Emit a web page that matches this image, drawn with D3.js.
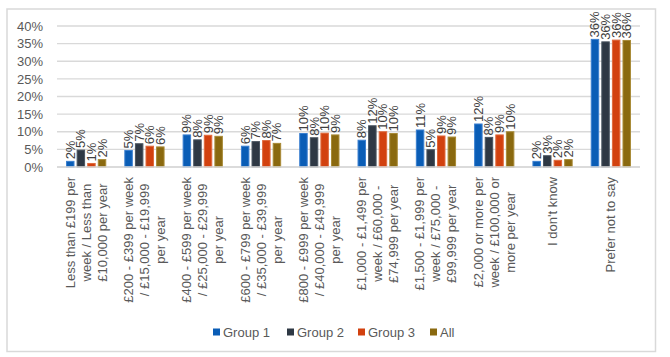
<!DOCTYPE html>
<html><head><meta charset="utf-8">
<script src="https://cdn.jsdelivr.net/npm/d3@7"></script>
<style>body{margin:0;background:#fff}svg{display:block;font-family:"Liberation Sans",Arial,sans-serif}</style>
</head><body><svg id="c" width="670" height="357"></svg>
<script>
const categories = [
  ["Less than £199 per","week / Less than","£10,000 per year"],
  ["£200 - £399 per week","/ £15,000 - £19,999","per year"],
  ["£400 - £599 per week","/ £25,000 - £29,999","per year"],
  ["£600 - £799 per week","/ £35,000 - £39,999","per year"],
  ["£800 - £999 per week","/ £40,000 - £49,999","per year"],
  ["£1,000 - £1,499 per","week / £60,000 -","£74,999 per year"],
  ["£1,500 - £1,999 per","week / £75,000 -","£99,999 per year"],
  ["£2,000 or more per","week / £100,000 or","more per year"],
  ["I don't know"],
  ["Prefer not to say"]
];
const seriesNames = ["Group 1","Group 2","Group 3","All"];
const group1 = [1.6, 4.7, 9.1, 5.9, 9.5, 7.6, 10.5, 12.2, 1.6, 36.2];
const group2 = [4.8, 6.6, 7.7, 7.2, 8.3, 11.7, 4.9, 8.4, 3.2, 35.5];
const group3 = [1.0, 5.9, 9.0, 7.5, 9.6, 10.0, 8.8, 9.1, 1.9, 36.0];
const all    = [2.1, 5.7, 8.7, 6.7, 9.1, 9.5, 8.5, 10.0, 2.1, 35.9];
const yTicks = [0,5,10,15,20,25,30,35,40];
const colors = ["#0a5db6","#2e3844","#d2410f","#8a690f"];
const strokes = ["#3a7fd0","#4a5560","#e06a3c","#a88a36"];

(function(){
const series = [group1, group2, group3, all];
const svg = d3.select("#c");
const pLeft = 57, pRight = 640, pTop = 26, pBottom = 167;

svg.append("rect").attr("x",7).attr("y",9).attr("width",648.5).attr("height",342.5)
  .attr("fill","#fff").attr("stroke","#d9d9d9").attr("stroke-width",1.5);

const x = d3.scaleBand().domain(d3.range(categories.length)).range([pLeft,pRight]).paddingInner(0.31).paddingOuter(0.155);
const xi = d3.scaleBand().domain(d3.range(series.length)).range([0,x.bandwidth()]).paddingInner(0.2);
const y = d3.scaleLinear().domain([0,40]).range([pBottom,pTop]);

svg.append("g").selectAll("line").data(yTicks).join("line")
  .attr("x1",pLeft).attr("x2",pRight)
  .attr("y1",d=>y(d)).attr("y2",d=>y(d))
  .attr("stroke","#d9d9d9").attr("stroke-width",1.3);

const yAxis = d3.axisLeft(y).tickValues(yTicks).tickFormat(d=>d+"%").tickSize(0).tickPadding(12);
const ya = svg.append("g").attr("transform",`translate(${pLeft-2},0)`).call(yAxis);
ya.select(".domain").remove();
ya.selectAll("text").attr("font-size",13).attr("fill","#595959").attr("font-family","Liberation Sans, Arial, sans-serif");

const groups = svg.append("g").selectAll("g").data(categories).join("g")
  .attr("transform",(d,i)=>`translate(${x(i)},0)`);
groups.each(function(c,i){
  const g = d3.select(this);
  series.forEach((s,j)=>{
    g.append("rect").attr("x",xi(j)+0.5).attr("width",xi.bandwidth()-1)
      .attr("y",y(s[i])).attr("height",y(0)-y(s[i]))
      .attr("fill",colors[j]).attr("stroke",strokes[j]).attr("stroke-width",1);
    const lx = xi(j)+xi.bandwidth()/2;
    g.append("text").attr("transform",`translate(${lx+4.5},${y(s[i])-2}) rotate(-90)`)
      .attr("font-size",13).attr("fill","#404040").attr("text-anchor","start")
      .text(Math.round(s[i])+"%");
  });
});

svg.append("line").attr("x1",pLeft).attr("x2",pRight).attr("y1",y(0)).attr("y2",y(0))
  .attr("stroke","#d9d9d9").attr("stroke-width",1.3);

categories.forEach((lines,i)=>{
  const cx = x(i)+x.bandwidth()/2;
  const g = svg.append("g").attr("transform",`translate(${cx},${pBottom+10}) rotate(-90)`)
    .attr("font-size",13).attr("fill","#595959");
  const ts = lines.map((l,k)=>g.append("text").attr("text-anchor","middle")
    .attr("y",(k-(lines.length-1)/2)*16+4.5).text(l));
  const maxW = d3.max(ts,t=>t.node().getComputedTextLength());
  ts.forEach(t=>t.attr("x",-maxW/2));
});

const legendX = [213,287,358,430];
seriesNames.forEach((n,j)=>{
  svg.append("rect").attr("x",legendX[j]).attr("y",328.5).attr("width",7).attr("height",7).attr("fill",colors[j]);
  svg.append("text").attr("x",legendX[j]+10).attr("y",337).attr("font-size",13).attr("fill","#595959").text(n);
});
})();
</script></body></html>
